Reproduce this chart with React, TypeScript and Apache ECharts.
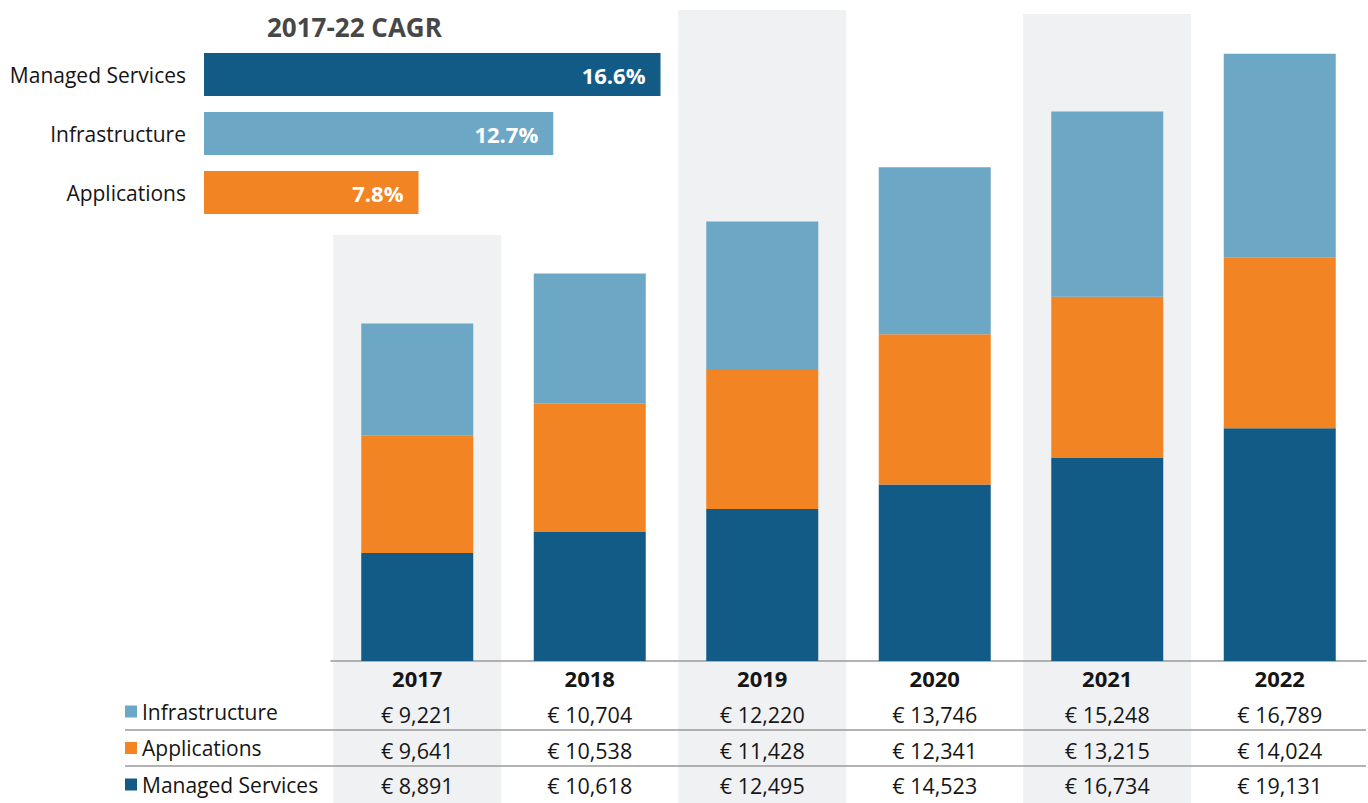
import React, { useEffect, useRef } from "react";
import * as echarts from "echarts";

const years = ["2017", "2018", "2019", "2020", "2021", "2022"];
const infrastructure = [9221, 10704, 12220, 13746, 15248, 16789];
const applications = [9641, 10538, 11428, 12341, 13215, 14024];
const managedServices = [8891, 10618, 12495, 14523, 16734, 19131];

const cagrTitle = "2017-22 CAGR";
const cagrCategories = ["Managed Services", "Infrastructure", "Applications"];
const cagrValues = [16.6, 12.7, 7.8];

const seriesNames = ["Infrastructure", "Applications", "Managed Services"];

const FONT = "'Open Sans', 'DejaVu Sans', sans-serif";
const C_DARK = "#135b87";
const C_ORANGE = "#f38423";
const C_LIGHT = "#6da7c6";
const C_BAND = "#f0f1f3";
const C_TEXT = "#151515";

const fmt = (v: number) => "\u20ac " + v.toLocaleString("en-US");

export default function App() {
  const ref = useRef<HTMLDivElement>(null);
  useEffect(() => {
    document.body.style.margin = "0";
    const chart = echarts.init(ref.current!, null, { renderer: "svg" });

    const rowAxis = (offset: number, values: number[]) => ({
      gridIndex: 0,
      type: "category",
      data: years,
      position: "bottom",
      offset,
      axisLine: { show: false },
      axisTick: { show: false },
      axisLabel: {
        interval: 0,
        margin: 7,
        fontFamily: FONT,
        fontSize: 21.5,
        lineHeight: 21,
        color: C_TEXT,
        formatter: (_v: string, i: number) => fmt(values[i]),
      },
    });

    const option: any = {
      animation: false,
      backgroundColor: "#ffffff",
      title: {
        text: cagrTitle,
        left: 267,
        top: 14,
        padding: 0,
        textStyle: {
          fontFamily: FONT,
          fontSize: 26,
          lineHeight: 26,
          fontWeight: "bold",
          color: "#474747",
        },
      },
      legend: {
        data: seriesNames,
        orient: "vertical",
        left: 125,
        top: 701,
        padding: 0,
        itemGap: 15.5,
        itemWidth: 12,
        itemHeight: 12,
        icon: "rect",
        selectedMode: false,
        textStyle: {
          fontFamily: FONT,
          fontSize: 21,
          lineHeight: 20,
          color: C_TEXT,
        },
      },
      grid: [
        { left: 331, right: 2, top: 53, bottom: 142, outerBoundsMode: "none" },
        { left: 331, right: 2, top: 0, bottom: 0, outerBoundsMode: "none" },
        { left: 204, width: 550, top: 45, height: 177, outerBoundsMode: "none" },
      ],
      xAxis: [
        {
          gridIndex: 0,
          type: "category",
          data: years,
          position: "bottom",
          axisLine: { show: true, lineStyle: { color: "#9a9a9a", width: 1.5 } },
          axisTick: { show: false },
          axisLabel: {
            interval: 0,
            margin: 6,
            fontFamily: FONT,
            fontSize: 22,
            lineHeight: 21,
            fontWeight: "bold",
            color: C_TEXT,
          },
        },
        rowAxis(35.5, infrastructure),
        rowAxis(71.5, applications),
        rowAxis(107, managedServices),
        {
          gridIndex: 1,
          type: "category",
          data: years,
          show: false,
        },
        {
          gridIndex: 2,
          type: "value",
          min: 0,
          max: 20,
          show: false,
        },
      ],
      yAxis: [
        { gridIndex: 0, type: "value", min: 0, max: 50000, show: false },
        { gridIndex: 1, type: "value", min: 0, max: 803, show: false },
        {
          gridIndex: 2,
          type: "category",
          data: cagrCategories,
          inverse: true,
          axisLine: { show: false },
          axisTick: { show: false },
          axisLabel: {
            margin: 18,
            fontFamily: FONT,
            fontSize: 21,
            color: C_TEXT,
          },
        },
      ],
      graphic: [
        {
          type: "line",
          shape: { x1: 125, y1: 730, x2: 1366, y2: 730 },
          style: { stroke: "#9a9a9a", lineWidth: 1.5 },
          silent: true,
        },
        {
          type: "line",
          shape: { x1: 125, y1: 766, x2: 1366, y2: 766 },
          style: { stroke: "#9a9a9a", lineWidth: 1.5 },
          silent: true,
        },
      ],
      series: [
        {
          name: "band",
          type: "bar",
          xAxisIndex: 4,
          yAxisIndex: 1,
          barWidth: 168,
          silent: true,
          z: -1,
          itemStyle: { color: C_BAND },
          data: [568, "-", 793, "-", 789, "-"],
        },
        {
          name: "Managed Services",
          type: "bar",
          stack: "total",
          xAxisIndex: 0,
          yAxisIndex: 0,
          barWidth: 112,
          itemStyle: { color: C_DARK },
          data: managedServices,
        },
        {
          name: "Applications",
          type: "bar",
          stack: "total",
          xAxisIndex: 0,
          yAxisIndex: 0,
          barWidth: 112,
          itemStyle: { color: C_ORANGE },
          data: applications,
        },
        {
          name: "Infrastructure",
          type: "bar",
          stack: "total",
          xAxisIndex: 0,
          yAxisIndex: 0,
          barWidth: 112,
          itemStyle: { color: C_LIGHT },
          data: infrastructure,
        },
        {
          name: "CAGR",
          type: "bar",
          xAxisIndex: 5,
          yAxisIndex: 2,
          barWidth: 43,
          data: cagrValues.map((v, i) => ({
            value: v,
            itemStyle: { color: [C_DARK, C_LIGHT, C_ORANGE][i] },
          })),
          label: {
            show: true,
            position: "insideRight",
            distance: 15,
            formatter: (p: any) => p.value.toFixed(1) + "%",
            fontFamily: FONT,
            fontSize: 22,
            fontWeight: "bold",
            color: "#ffffff",
          },
        },
      ],
    };
    chart.setOption(option);
    return () => chart.dispose();
  }, []);
  return <div ref={ref} style={{ width: 1368, height: 803 }} />;
}
